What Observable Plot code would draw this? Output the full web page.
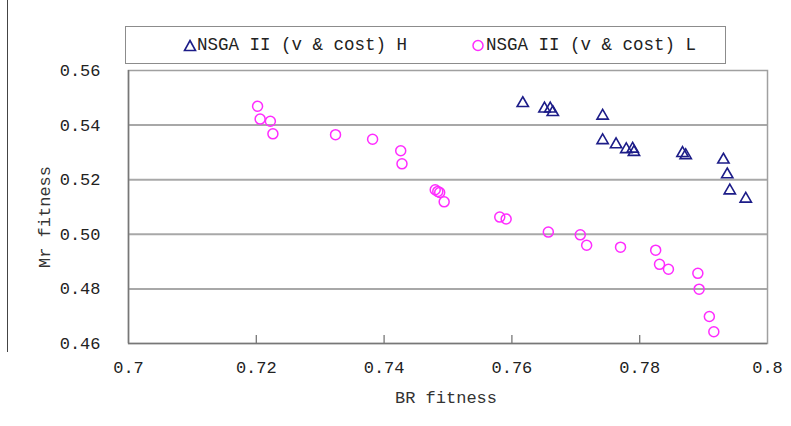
<!DOCTYPE html>
<html>
<head>
<meta charset="utf-8">
<script src="https://cdn.jsdelivr.net/npm/d3@7"></script>
<script src="https://cdn.jsdelivr.net/npm/@observablehq/plot@0.6"></script>
<style>
  body { margin: 0; background: #fff; }
  #wrap { position: relative; width: 791px; height: 426px; font-family: "Liberation Mono", monospace; color: #222; overflow: hidden; }
  #chart svg { display: block; }
  #legend { position: absolute; left: 125px; top: 26px; width: 601px; height: 38px; border: 1.5px solid #8c8c8c; box-sizing: border-box; background: #fff; }
  .item { position: absolute; top: 7px; font-size: 17.5px; line-height: 22px; white-space: pre; color: #222; }
  .item svg { position: absolute; top: 5px; }
  .atitle { position: absolute; font-size: 17px; white-space: pre; color: #333; }
  #edge { position: absolute; left: 7px; top: 0; width: 0; height: 352px; border-left: 1.5px solid #444; }
</style>
</head>
<body>
<div id="wrap">
  <div id="chart"></div>
  <div id="edge"></div>
  <div id="legend"></div>
  <div class="atitle" id="xt"></div>
  <div class="atitle" id="yt"></div>
</div>
<script>
// Series names
const seriesNames = ["NSGA II (v & cost) H", "NSGA II (v & cost) L"];
const xTitle = "BR fitness";
const yTitle = "Mr fitness";

// Series H (triangles)
const hX = [0.7617, 0.7651, 0.7660, 0.7664, 0.7742, 0.7742, 0.7763, 0.7779, 0.7789, 0.7791, 0.7867, 0.7872, 0.7931, 0.7937, 0.7941, 0.7966];
const hY = [0.5480, 0.5460, 0.5460, 0.5447, 0.5434, 0.5344, 0.5329, 0.5311, 0.5313, 0.5301, 0.5297, 0.5289, 0.5273, 0.5219, 0.5160, 0.5130];

// Series L (circles)
const lX = [0.7202, 0.7206, 0.7222, 0.7226, 0.7324, 0.7382, 0.7426, 0.7428, 0.7480, 0.7484, 0.7487, 0.7494, 0.7581, 0.7591, 0.7657, 0.7707, 0.7717, 0.7770, 0.7825, 0.7831, 0.7845, 0.7891, 0.7893, 0.7909, 0.7916];
const lY = [0.5469, 0.5422, 0.5414, 0.5368, 0.5365, 0.5348, 0.5306, 0.5258, 0.5163, 0.5157, 0.5153, 0.5119, 0.5063, 0.5056, 0.5008, 0.4998, 0.4960, 0.4953, 0.4942, 0.4890, 0.4872, 0.4857, 0.4799, 0.4699, 0.4643];

// Ticks
const xTicks = [0.7, 0.72, 0.74, 0.76, 0.78, 0.8];
const xTickLabels = ["0.7", "0.72", "0.74", "0.76", "0.78", "0.8"];
const yTicks = [0.46, 0.48, 0.50, 0.52, 0.54, 0.56];
const yTickLabels = ["0.46", "0.48", "0.50", "0.52", "0.54", "0.56"];

const H = hX.map((x, i) => ({x, y: hY[i]}));
const L = lX.map((x, i) => ({x, y: lY[i]}));

const navy = "#1c1c88";
const magenta = "#ff2cff";

const W = 791, HT = 426, mT = 70, mB = 83;
const innerH = HT - mT - mB;
const tickLen = 8;

const chart = Plot.plot({
  width: W,
  height: HT,
  marginLeft: 128,
  marginRight: 24,
  marginTop: mT,
  marginBottom: mB,
  style: { fontFamily: "Liberation Mono, monospace", fontSize: "17px", color: "#222", background: "white" },
  x: { domain: [xTicks[0], xTicks[xTicks.length - 1]] },
  y: { domain: [yTicks[0], yTicks[yTicks.length - 1]] },
  marks: [
    Plot.ruleY(yTicks.slice(1, -1), { stroke: "#a8a8a8", strokeWidth: 2 }),
    Plot.frame({ stroke: "#a0a0a0", strokeWidth: 1.5 }),
    Plot.ruleX([xTicks[0]], { stroke: "#777", strokeWidth: 1.5 }),
    Plot.ruleY([yTicks[0]], { stroke: "#777", strokeWidth: 1.5 }),
    Plot.ruleX(xTicks.slice(1, -1), { stroke: "#777", strokeWidth: 1.3, insetTop: innerH - tickLen }),
    Plot.axisX({ ticks: xTicks, tickSize: 0, tickPadding: 17, tickFormat: (d) => xTickLabels[xTicks.indexOf(d)], label: null, fill: "#222" }),
    Plot.axisY({ ticks: yTicks, tickSize: 0, tickPadding: 28, tickFormat: (d) => yTickLabels[yTicks.indexOf(d)], label: null, fill: "#222" }),
    Plot.dot(L, { x: "x", y: "y", r: 5, stroke: magenta, strokeWidth: 1.5, fill: "none" }),
    Plot.dot(H, { x: "x", y: "y", symbol: "triangle", r: 4.2, stroke: navy, strokeWidth: 1.6, fill: "none" })
  ]
});
document.getElementById("chart").appendChild(chart);

// Legend
const legend = document.getElementById("legend");
legend.innerHTML =
  `<div class="item" style="left:57px"><svg width="14" height="14" style="left:0"><path d="M7,1.5 L12.5,11.5 L1.5,11.5 Z" fill="none" stroke="${navy}" stroke-width="1.6"/></svg><span style="margin-left:14px">${seriesNames[0].replace(/&/g, "&amp;")}</span></div>` +
  `<div class="item" style="left:345px"><svg width="14" height="14" style="left:0"><circle cx="7" cy="6.5" r="5" fill="none" stroke="${magenta}" stroke-width="1.5"/></svg><span style="margin-left:15px">${seriesNames[1].replace(/&/g, "&amp;")}</span></div>`;

// Axis titles
const xt = document.getElementById("xt");
xt.textContent = xTitle;
xt.style.left = (447 - 52) + "px";
xt.style.top = "389px";
const yt = document.getElementById("yt");
yt.textContent = yTitle;
yt.style.left = "0px";
yt.style.top = "0px";
yt.style.transformOrigin = "0 0";
yt.style.transform = "translate(36px, 268px) rotate(-90deg)";
</script>
</body>
</html>
